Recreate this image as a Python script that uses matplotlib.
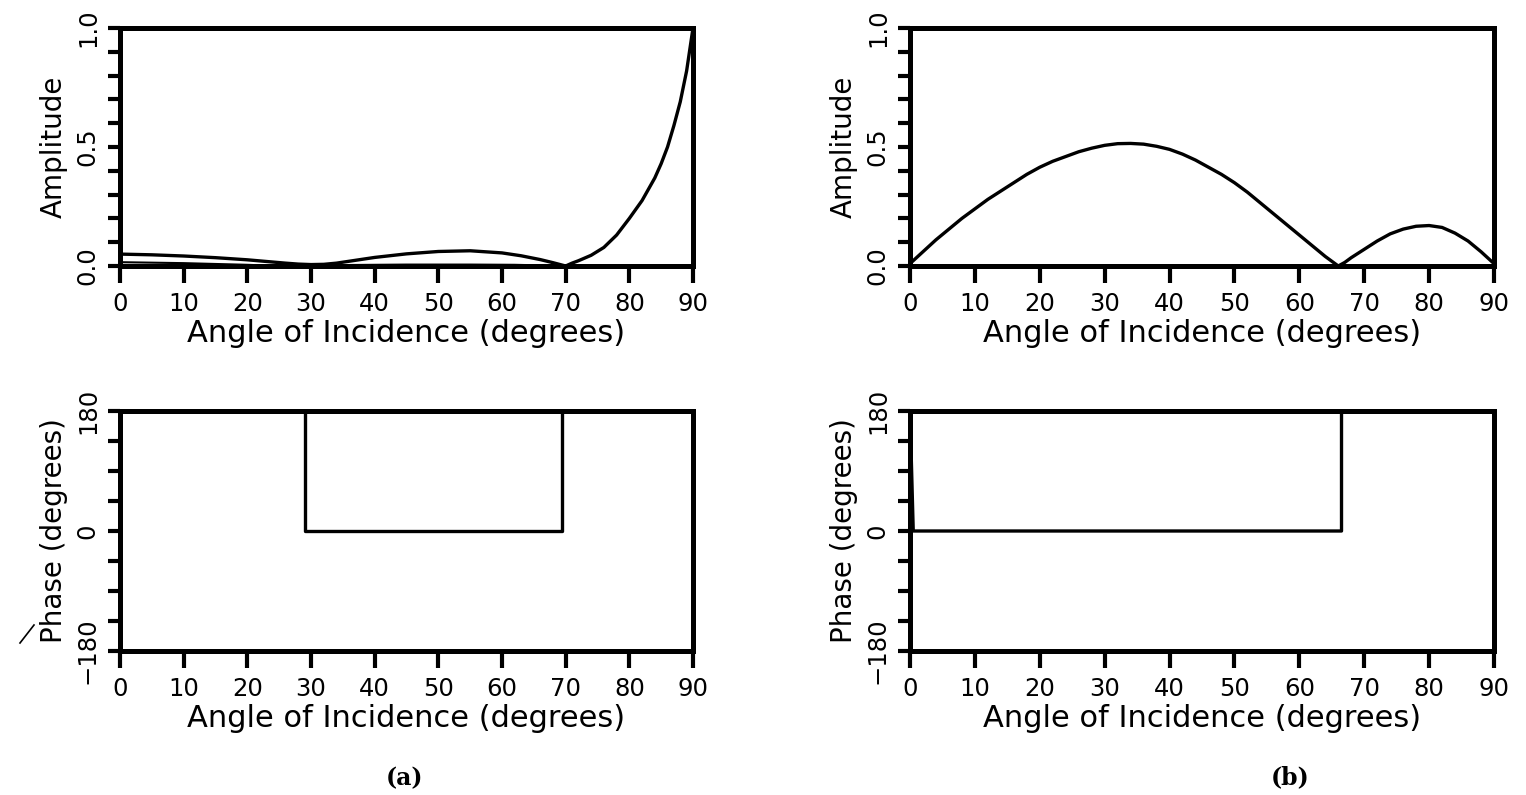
import numpy as np
import matplotlib
matplotlib.use("Agg")
import matplotlib.pyplot as plt
from matplotlib.ticker import MultipleLocator
from matplotlib.lines import Line2D

# -------- DATA --------
angle_amp_a = [0, 5, 10, 15, 20, 23, 26, 28, 30, 32, 34, 37, 40, 45, 50, 55, 60, 63, 66, 68, 70,
               71, 72, 74, 76, 78, 80, 82, 84, 85, 86, 87, 88, 89, 90]
amp_a = [0.05, 0.047, 0.042, 0.035, 0.026, 0.019, 0.012, 0.008, 0.006, 0.007, 0.012, 0.024, 0.036,
         0.051, 0.061, 0.064, 0.055, 0.043, 0.027, 0.014, 0.0,
         0.012, 0.022, 0.045, 0.078, 0.13, 0.2, 0.275, 0.37, 0.43, 0.5, 0.59, 0.69, 0.82, 1.0]
angle_amp_a2 = [0, 10, 20, 25, 30, 35, 45, 55, 62, 67, 70]
amp_a2 = [0.016, 0.012, 0.005, 0.0, 0.0, 0.004, 0.006, 0.006, 0.005, 0.002, 0.0]

angle_amp_b = [0, 2, 4, 6, 8, 10, 12, 14, 16, 18, 20, 22, 24, 26, 28, 30, 32, 34, 36, 38, 40,
               42, 44, 46, 48, 50, 52, 54, 56, 58, 60, 62, 64, 66,
               67, 68, 70, 72, 74, 76, 78, 80, 82, 84, 86, 88, 89, 90]
amp_b = [0.01, 0.06, 0.11, 0.155, 0.2, 0.24, 0.28, 0.315, 0.35, 0.385, 0.415, 0.44, 0.46, 0.48,
         0.495, 0.507, 0.514, 0.515, 0.512, 0.503, 0.49,
         0.47, 0.445, 0.415, 0.385, 0.35, 0.31, 0.265, 0.22, 0.175, 0.13, 0.085, 0.04, 0.0,
         0.015, 0.035, 0.07, 0.105, 0.135, 0.155, 0.167, 0.17, 0.162, 0.138, 0.105, 0.06, 0.035, 0.01]

angle_phase_a = [0, 29, 29, 69.5, 69.5, 90]
phase_a = [180, 180, 0, 0, 180, 180]
angle_phase_b = [0, 0.5, 66.5, 66.5, 90]
phase_b = [180, 0, 0, 180, 180]

xticks = [0, 10, 20, 30, 40, 50, 60, 70, 80, 90]
xlabel = "Angle of Incidence (degrees)"
amp_ticks = [0.0, 0.5, 1.0]
amp_labels = ["0.0", "0.5", "1.0"]
phase_ticks = [-180, 0, 180]
phase_labels = ["\u2212180", "0", "180"]

plt.rcParams["font.family"] = ["DejaVu Sans"]

fig = plt.figure(figsize=(15.26, 7.95), dpi=100)

left_x, left_w = 120 / 1526, 573 / 1526
right_x, right_w = 910 / 1526, 584 / 1526
top_y, top_h = 1 - 266 / 795, 238 / 795
bot_y, bot_h = 1 - 651 / 795, 240 / 795


def style(ax, ymin, ymax, ticks, labels, yminor, ylabel):
    ax.set_xlim(0, 90)
    ax.set_ylim(ymin, ymax)
    for s in ax.spines.values():
        s.set_linewidth(3.6)
    ax.set_xticks(xticks)
    ax.set_xticklabels([str(t) for t in xticks], fontsize=17.5)
    ax.set_yticks(ticks)
    ax.set_yticklabels(labels, rotation=90, va="center", fontsize=17.5)
    ax.yaxis.set_minor_locator(MultipleLocator(yminor))
    ax.tick_params(axis="x", direction="out", length=12, width=3, pad=7)
    ax.tick_params(axis="y", which="both", direction="out", length=8.5, width=3, pad=6)
    ax.set_xlabel(xlabel, fontsize=22, labelpad=2)
    ax.set_ylabel(ylabel, fontsize=20, labelpad=6)


# -------- AMPLITUDE (a) --------
ax1 = fig.add_axes([left_x, top_y, left_w, top_h])
ax1.plot(angle_amp_a, amp_a, color="black", lw=2.4)
ax1.plot(angle_amp_a2, amp_a2, color="black", lw=1.5)
style(ax1, 0, 1.0, amp_ticks, amp_labels, 0.1, "Amplitude")

# -------- PHASE (a) --------
ax2 = fig.add_axes([left_x, bot_y, left_w, bot_h])
ax2.plot(angle_phase_a, phase_a, color="black", lw=2.4)
style(ax2, -180, 180, phase_ticks, phase_labels, 45, "Phase (degrees)")

# -------- AMPLITUDE (b) --------
ax3 = fig.add_axes([right_x, top_y, right_w, top_h])
ax3.plot(angle_amp_b, amp_b, color="black", lw=2.4)
style(ax3, 0, 1.0, amp_ticks, amp_labels, 0.1, "Amplitude")

# -------- PHASE (b) --------
ax4 = fig.add_axes([right_x, bot_y, right_w, bot_h])
ax4.plot(angle_phase_b, phase_b, color="black", lw=2.4)
style(ax4, -180, 180, phase_ticks, phase_labels, 45, "Phase (degrees)")

# stray pen mark beside the lower-left axis label
fig.add_artist(Line2D([20 / 1526, 34 / 1526], [1 - 643 / 795, 1 - 625 / 795],
                      color="black", lw=1.2))

fig.text(405 / 1526, 1 - 778 / 795, "(a)", fontsize=17, fontweight="bold",
         family="DejaVu Serif", ha="center", va="center")
fig.text(1290 / 1526, 1 - 777 / 795, "(b)", fontsize=17, fontweight="bold",
         family="DejaVu Serif", ha="center", va="center")

fig.savefig("out.png", dpi=100)
